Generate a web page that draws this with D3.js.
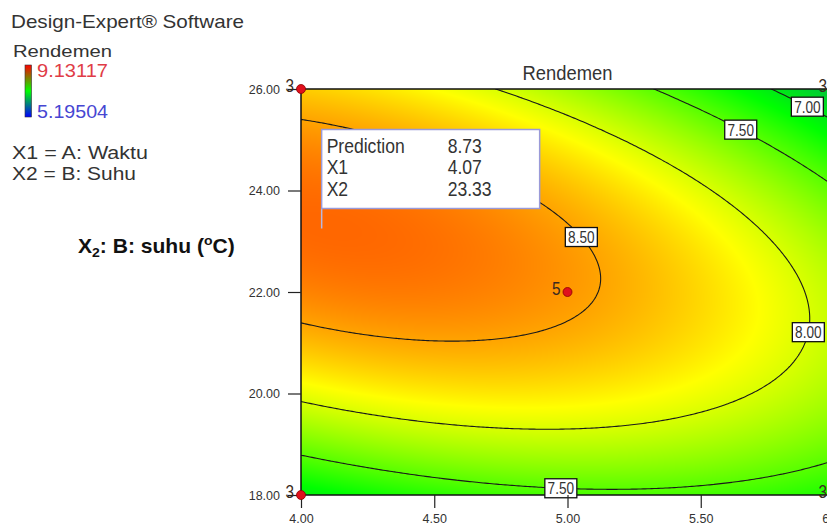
<!DOCTYPE html>
<html><head><meta charset="utf-8">
<script src="https://cdn.jsdelivr.net/npm/d3@7"></script>
<style>
html,body{margin:0;padding:0;background:#fff;}
svg{display:block;}
</style></head>
<body>
<svg id="chart" width="827" height="523"></svg>
<script>
// ---- Factor ranges (actual units) ----
const waktuRange = [4, 6];     // A: Waktu
const suhuRange = [18, 26];    // B: Suhu
// Fitted quadratic in coded factors: [b0, A, B, AB, A^2, B^2]
const modelCoefs = [8.545, -0.359, 0.181, -0.467, -0.284, -0.928];
// Observed response range shown in the legend
const responseRange = [5.19504, 9.13117];
const contourLevels = [7.0, 7.5, 8.0, 8.5];
// Where each contour label sits: [level, waktu, suhu]
const contourLabelAt = [
  [8.5, 5.05, 23.06],
  [8.0, 5.88, 21.23],
  [7.5, 5.66, 25.29],
  [7.5, 4.98, 18.33],
  [7.0, 5.91, 25.76]
];
const xTicks = [4.0, 4.5, 5.0, 5.5, 6.0];
const yTicks = [18, 20, 22, 24, 26];
// Design points: waktu, suhu, replicate count
const designWaktu = [4, 4, 6, 6, 5];
const designSuhu = [26, 18, 26, 18, 22];
const designCount = [3, 3, 3, 3, 5];
const predictionRows = [["Prediction", 8.73], ["X1", 4.07], ["X2", 23.33]];

const svg = d3.select("#chart");

const x = d3.scaleLinear().domain(waktuRange).range([301, 834]);
const y = d3.scaleLinear().domain(suhuRange).range([495, 89]);

const aMid = (waktuRange[0] + waktuRange[1]) / 2, aHalf = (waktuRange[1] - waktuRange[0]) / 2;
const bMid = (suhuRange[0] + suhuRange[1]) / 2, bHalf = (suhuRange[1] - suhuRange[0]) / 2;
function rendemen(w, s) {
  const a = (w - aMid) / aHalf, b = (s - bMid) / bHalf;
  const [c0, c1, c2, c3, c4, c5] = modelCoefs;
  return c0 + c1 * a + c2 * b + c3 * a * b + c4 * a * a + c5 * b * b;
}

// Colour ramp: blue -> green -> yellow -> red over the observed range
const [rMin, rMax] = responseRange;
const rSpan = rMax - rMin;
const color = d3.scaleLinear()
  .domain([rMin, rMin + 0.5 * rSpan, rMin + 0.75 * rSpan, rMax])
  .range(["rgb(0,0,255)", "rgb(0,255,0)", "rgb(255,255,0)", "rgb(255,0,0)"])
  .clamp(true);

// ---- Colour field rendered to a canvas and placed as an image ----
const px0 = Math.round(x.range()[0]), px1 = Math.round(x.range()[1]);
const py0 = Math.round(y.range()[1]), py1 = Math.round(y.range()[0]);
const fw = px1 - px0, fh = py1 - py0;
const cv = document.createElement("canvas");
cv.width = fw; cv.height = fh;
const ctx = cv.getContext("2d");
const img = ctx.createImageData(fw, fh);
for (let j = 0; j < fh; j++) {
  const s = y.invert(py0 + j + 0.5);
  for (let i = 0; i < fw; i++) {
    const w = x.invert(px0 + i + 0.5);
    const c = d3.rgb(color(rendemen(w, s)));
    const k = (j * fw + i) * 4;
    img.data[k] = c.r; img.data[k + 1] = c.g; img.data[k + 2] = c.b; img.data[k + 3] = 255;
  }
}
ctx.putImageData(img, 0, 0);

const defs = svg.append("defs");
defs.append("clipPath").attr("id", "plotClip")
  .append("rect").attr("x", px0).attr("y", py0).attr("width", fw).attr("height", fh);

const plot = svg.append("g");
plot.append("image")
  .attr("x", px0).attr("y", py0).attr("width", fw).attr("height", fh)
  .attr("preserveAspectRatio", "none")
  .attr("href", cv.toDataURL());

// ---- Contours ----
const nx = 241, ny = 193;
const stepW = (waktuRange[1] - waktuRange[0]) / (nx - 1);
const stepS = (suhuRange[1] - suhuRange[0]) / (ny - 1);
const grid = new Array(nx * ny);
for (let j = 0; j < ny; j++) {
  const s = suhuRange[0] + j * stepS;
  for (let i = 0; i < nx; i++) grid[j * nx + i] = rendemen(waktuRange[0] + i * stepW, s);
}
const contours = d3.contours().size([nx, ny]).thresholds(contourLevels)(grid);
const toPx = (gx, gy) => [x(waktuRange[0] + (gx - 0.5) * stepW), y(suhuRange[0] + (gy - 0.5) * stepS)];
const proj = d3.geoTransform({
  point(gx, gy) { const p = toPx(gx, gy); this.stream.point(p[0], p[1]); }
});
const path = d3.geoPath(proj);

const cg = plot.append("g").attr("clip-path", "url(#plotClip)");
cg.selectAll("path.contour").data(contours).join("path")
  .attr("class", "contour")
  .attr("d", path)
  .attr("fill", "none")
  .attr("stroke", "#1a1a1a")
  .attr("stroke-width", 1.1);

// ---- Plot frame ----
svg.append("rect")
  .attr("x", x.range()[0]).attr("y", y.range()[1])
  .attr("width", x.range()[1] - x.range()[0]).attr("height", y.range()[0] - y.range()[1])
  .attr("fill", "none").attr("stroke", "#111").attr("stroke-width", 1.5);

// Narrow-looking text: regular face squeezed horizontally
const plotFont = "'Liberation Sans',Arial,sans-serif";
function narrowText(parent, txt, tx, ty, size, squeeze, anchor) {
  return parent.append("text")
    .attr("transform", `translate(${tx},${ty}) scale(${squeeze},1)`)
    .attr("text-anchor", anchor || "start")
    .attr("font-family", plotFont).attr("font-size", size).attr("fill", "#333")
    .text(txt);
}

// ---- Contour labels snapped to their lines ----
contourLabelAt.forEach(([lev, w, s]) => {
  const c = contours.find(d => d.value === lev);
  const target = [x(w), y(s)];
  let best = target, bd = Infinity;
  c.coordinates.forEach(poly => poly.forEach(ring => ring.forEach(([gx, gy]) => {
    const p = toPx(gx, gy);
    const d = (p[0] - target[0]) ** 2 + (p[1] - target[1]) ** 2;
    if (d < bd) { bd = d; best = p; }
  })));
  const g = svg.append("g").attr("transform", `translate(${best[0]},${best[1]})`);
  g.append("rect").attr("x", -16).attr("y", -9.5).attr("width", 32).attr("height", 19)
    .attr("fill", "#fff").attr("stroke", "#111").attr("stroke-width", 1.3);
  narrowText(g, d3.format(".2f")(lev), 0, 6, 16, 0.85, "middle");
});

// ---- Axes ----
const yAxis = svg.append("g").attr("transform", `translate(${x.range()[0]},0)`)
  .call(d3.axisLeft(y).tickValues(yTicks).tickFormat(d3.format(".2f")).tickSize(13).tickPadding(8));
const xAxis = svg.append("g").attr("transform", `translate(0,${y.range()[0]})`)
  .call(d3.axisBottom(x).tickValues(xTicks).tickFormat(d3.format(".2f")).tickSize(13).tickPadding(6));
[yAxis, xAxis].forEach(ax => {
  ax.select(".domain").remove();
  ax.selectAll(".tick line").attr("stroke", "#222").attr("stroke-width", 1.2);
  ax.selectAll(".tick text").attr("font-family", plotFont).attr("font-size", 12.5).attr("fill", "#333");
});

// ---- Design points ----
const pts = designWaktu.map((w, i) => ({ w, s: designSuhu[i], n: designCount[i] }));
svg.append("g").selectAll("text").data(pts).join("text")
  .attr("transform", d => `translate(${x(d.w) - 7},${y(d.s) + 3}) scale(0.85,1)`)
  .attr("text-anchor", "end")
  .attr("font-family", plotFont).attr("font-size", 18).attr("fill", "#3a2a20")
  .text(d => d.n);
svg.append("g").selectAll("circle").data(pts).join("circle")
  .attr("cx", d => x(d.w)).attr("cy", d => y(d.s)).attr("r", 4.5)
  .attr("fill", "#e0101c").attr("stroke", "#8a0000").attr("stroke-width", 0.8);

// ---- Prediction flag ----
const pp = [x(predictionRows[1][1]), y(predictionRows[2][1])];
const flag = svg.append("g").attr("transform", `translate(${pp[0] + 2},${pp[1] - 16})`);
flag.append("line").attr("x1", 0).attr("y1", 0).attr("x2", 0).attr("y2", 20)
  .attr("stroke", "#b8b8e0").attr("stroke-width", 1.5);
flag.append("rect").attr("x", 0).attr("y", -79).attr("width", 218).attr("height", 79)
  .attr("fill", "#fff").attr("stroke", "#9a9ad8").attr("stroke-width", 1.5);
predictionRows.forEach(([lab, val], i) => {
  const ty = -56 + i * 21.5;
  narrowText(flag, lab, 5, ty, 19.5, 0.9);
  narrowText(flag, val.toFixed(2), 126, ty, 19.5, 0.9);
});

// ---- Title ----
narrowText(svg, "Rendemen", (x.range()[0] + x.range()[1]) / 2, 80, 20, 0.92, "middle");

// ---- Left-hand legend ----
const legFont = "'Liberation Sans',Arial,sans-serif";
function legendText(txt, tx, ty, size, len, fill) {
  return svg.append("text").attr("x", tx).attr("y", ty)
    .attr("font-family", legFont).attr("font-size", size).attr("fill", fill || "#333")
    .attr("textLength", len).attr("lengthAdjust", "spacingAndGlyphs").text(txt);
}
legendText("Design-Expert® Software", 11, 28, 18.5, 233);
legendText("Rendemen", 13, 57, 17, 99);
const grad = defs.append("linearGradient").attr("id", "legendRamp")
  .attr("x1", 0).attr("y1", 0).attr("x2", 0).attr("y2", 1);
[["0%", "rgb(255,0,0)"], ["50%", "rgb(0,255,0)"], ["100%", "rgb(0,0,255)"]]
  .forEach(([o, c]) => grad.append("stop").attr("offset", o).attr("stop-color", c));
svg.append("rect").attr("x", 25).attr("y", 65).attr("width", 6.5).attr("height", 52)
  .attr("fill", "url(#legendRamp)").attr("stroke", "#333").attr("stroke-width", 0.6);
legendText(d3.format(".5f")(responseRange[1]), 37, 77, 19, 71, "#e03c46");
legendText(d3.format(".5f")(responseRange[0]), 37, 118, 19, 71, "#4646d2");
legendText("X1 = A: Waktu", 12, 159, 17.5, 136);
legendText("X2 = B: Suhu", 12, 180, 17.5, 124);

// ---- Y axis title ----
const yt = svg.append("text").attr("transform", "translate(78,253) scale(1.08,1)")
  .attr("font-family", legFont).attr("font-size", 19.5).attr("font-weight", "bold").attr("fill", "#111");
yt.append("tspan").text("X");
yt.append("tspan").attr("font-size", 13).attr("dy", 4).text("2");
yt.append("tspan").attr("dy", -4).text(": B: suhu (");
yt.append("tspan").attr("font-size", 13).attr("dy", -8).text("o");
yt.append("tspan").attr("dy", 8).text("C)");
</script>
</body></html>
